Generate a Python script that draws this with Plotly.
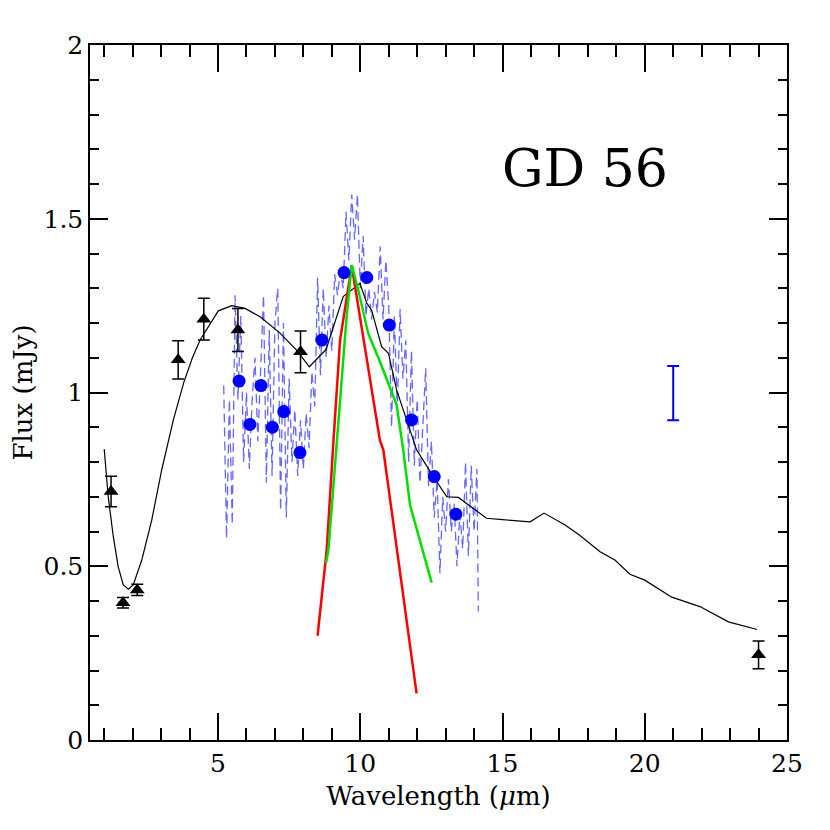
import plotly.graph_objects as go

# photometry (black triangles)
phot_wl = [1.24, 1.66, 2.16, 3.6, 4.5, 5.7, 7.9, 24.0]
phot_flux = [0.715, 0.395, 0.432, 1.094, 1.211, 1.18, 1.117, 0.245]
phot_err = [0.044, 0.015, 0.016, 0.055, 0.06, 0.062, 0.06, 0.04]

# model SED (black line)
model_wl = [1.0, 1.14, 1.32, 1.49, 1.67, 1.85, 2.02, 2.32, 2.67, 3.02, 3.43, 3.8, 4.1,
            4.37, 5.01, 5.48, 5.95, 6.48, 7.18, 7.76, 8.21, 8.8, 9.4, 9.99, 10.23,
            10.4, 10.75, 10.99, 11.28, 11.98, 12.57, 13.04, 13.45, 14.44, 15.0,
            15.97, 16.46, 17.2, 17.7, 18.43, 18.95, 19.48, 20.0, 20.95, 21.94,
            22.94, 23.95]
model_flux = [0.837, 0.70, 0.585, 0.499, 0.446, 0.434, 0.446, 0.518, 0.633, 0.777,
              0.921, 1.03, 1.10, 1.151, 1.235, 1.25, 1.242, 1.218, 1.171, 1.122,
              1.074, 1.124, 1.276, 1.314, 1.257, 1.237, 1.132, 1.113, 1.007, 0.835,
              0.758, 0.70, 0.698, 0.638, 0.634, 0.628, 0.653, 0.619, 0.59, 0.542,
              0.518, 0.477, 0.46, 0.411, 0.384, 0.34, 0.318]

# IRS spectrum (blue dashed)
irs_wl = [5.2, 5.3, 5.4, 5.5, 5.6, 5.7, 5.8, 5.9, 6.0, 6.1, 6.2, 6.3, 6.4, 6.5, 6.6,
          6.7, 6.8, 6.9, 7.0, 7.1, 7.2, 7.3, 7.4, 7.5, 7.6, 7.7, 7.8, 7.9, 8.0, 8.1,
          8.2, 8.3, 8.4, 8.5, 8.6, 8.7, 8.8, 8.9, 9.0, 9.1, 9.2, 9.3, 9.4, 9.5, 9.6,
          9.7, 9.8, 9.9, 10.0, 10.1, 10.2, 10.3, 10.4, 10.5, 10.6, 10.7, 10.8, 10.9,
          11.0, 11.1, 11.2, 11.3, 11.4, 11.5, 11.6, 11.7, 11.8, 11.9, 12.0, 12.1,
          12.2, 12.3, 12.4, 12.5, 12.6, 12.7, 12.8, 12.9, 13.0, 13.1, 13.2, 13.3,
          13.4, 13.5, 13.6, 13.7, 13.8, 13.9, 14.0, 14.1, 14.15]
irs_flux = [1.02, 0.58, 0.98, 0.62, 1.28, 0.98, 1.22, 0.80, 1.00, 0.78, 0.98, 1.10,
            0.86, 1.08, 1.28, 0.74, 1.18, 0.76, 1.20, 1.30, 0.66, 1.20, 0.64, 1.04,
            0.80, 0.95, 0.76, 0.92, 0.78, 0.94, 0.84, 1.06, 0.96, 1.33, 1.05, 1.30,
            1.10, 1.25, 1.12, 1.34, 1.28, 1.35, 1.30, 1.52, 1.38, 1.57, 1.44, 1.57,
            1.30, 1.45, 1.22, 1.30, 1.21, 1.29, 1.23, 1.42, 1.21, 1.38, 1.25, 0.90,
            1.22, 0.95, 1.24, 1.04, 1.15, 0.80, 1.12, 0.79, 0.98, 0.74, 0.92, 1.07,
            0.73, 0.86, 0.64, 0.75, 0.48, 0.70, 0.60, 0.75, 0.60, 0.68, 0.50, 0.65,
            0.55, 0.80, 0.53, 0.79, 0.60, 0.78, 0.37]

# binned spectrum (blue circles)
bin_wl = [5.74, 6.12, 6.51, 6.91, 7.31, 7.88, 8.65, 9.43, 10.23, 11.02, 11.8, 12.6, 13.36]
bin_flux = [1.033, 0.908, 1.02, 0.90, 0.945, 0.827, 1.151, 1.345, 1.331, 1.194, 0.921, 0.758, 0.65]

# silicate models
red_wl = [8.5, 8.82, 9.05, 9.29, 9.7, 9.99, 10.4, 10.69, 10.81, 11.28, 11.4, 11.98]
red_flux = [0.30, 0.547, 0.85, 1.151, 1.364, 1.218, 1.007, 0.863, 0.835, 0.547, 0.489, 0.134]
green_wl = [8.8, 8.88, 9.52, 9.7, 9.93, 10.28, 10.69, 11.28, 11.51, 11.75, 12.51]
green_flux = [0.51, 0.547, 1.218, 1.367, 1.295, 1.17, 1.089, 0.964, 0.835, 0.676, 0.453]

# typical error bar
err_wl = [21.0]
err_flux = [0.9985]
err_size = [0.078]

font = "DejaVu Serif"

fig = go.Figure()
fig.add_trace(go.Scatter(x=irs_wl, y=irs_flux, mode="lines",
                         line=dict(color="rgba(50,50,255,0.75)", width=1.3, dash="9px,5px")))
fig.add_trace(go.Scatter(x=model_wl, y=model_flux, mode="lines",
                         line=dict(color="black", width=1.2)))
fig.add_trace(go.Scatter(x=red_wl, y=red_flux, mode="lines",
                         line=dict(color="#ff0000", width=2.5)))
fig.add_trace(go.Scatter(x=green_wl, y=green_flux, mode="lines",
                         line=dict(color="#00e000", width=2.5)))
fig.add_trace(go.Scatter(x=bin_wl, y=bin_flux, mode="markers",
                         marker=dict(color="#0000ff", size=13, symbol="circle")))
fig.add_trace(go.Scatter(x=phot_wl, y=phot_flux, mode="markers",
                         marker=dict(color="black", size=13, symbol="triangle-up"),
                         error_y=dict(type="data", array=phot_err, color="black",
                                      thickness=1.5, width=6)))
fig.add_trace(go.Scatter(x=err_wl, y=err_flux, mode="markers",
                         marker=dict(color="#0000ff", size=1, opacity=0),
                         error_y=dict(type="data", array=err_size, color="#0000ff",
                                      thickness=2, width=6)))

fig.add_annotation(x=17.9, y=1.646, text="GD 56", showarrow=False,
                   font=dict(family=font, size=52, color="black"))

axis_common = dict(showline=True, linecolor="black", linewidth=1.5, mirror="allticks",
                   ticks="inside", tickcolor="black", tickwidth=1.5, showgrid=False,
                   zeroline=False, automargin=False,
                   tickfont=dict(family=font, size=25, color="black"))

fig.update_xaxes(range=[0.5, 25], tickmode="array", tickvals=[5, 10, 15, 20, 25],
                 ticklen=27,
                 minor=dict(tickmode="array", tickvals=list(range(1, 25)), ticks="inside",
                            ticklen=12, tickcolor="black", tickwidth=1.5),
                 title=dict(text="Wavelength (<i>μ</i>m)",
                            font=dict(family=font, size=26, color="black"), standoff=10),
                 **axis_common)
fig.update_yaxes(range=[0, 2], tickmode="array", tickvals=[0, 0.5, 1, 1.5, 2],
                 ticktext=["0", "0.5", "1", "1.5", "2"], ticklen=18,
                 minor=dict(tickmode="array", tickvals=[i / 10 for i in range(1, 20)],
                            ticks="inside", ticklen=9, tickcolor="black", tickwidth=1.5),
                 title=dict(text="Flux (mJy)",
                            font=dict(family=font, size=26, color="black"), standoff=12),
                 **axis_common)

# page body has an 8px margin, so shift the plot area back
fig.update_layout(width=830, height=830, showlegend=False,
                  plot_bgcolor="white", paper_bgcolor="white",
                  margin=dict(l=82, r=51, t=37, b=98))

fig.write_html("out.html")
